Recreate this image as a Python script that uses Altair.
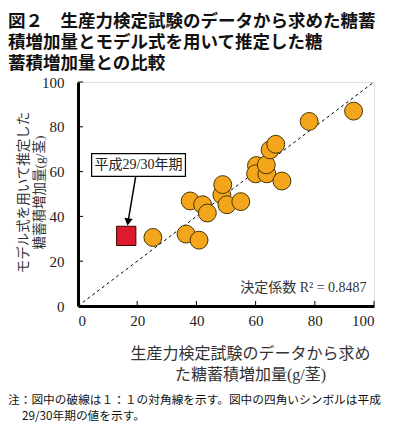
import altair as alt
import pandas as pd

# ---- data ----
obs_x = [25.3, 36.5, 40.9, 37.9, 42.1, 43.7, 48.6, 48.9, 50.3, 55.0,
         60.3, 60.0, 63.8, 63.6, 68.9, 64.9, 66.8, 78.1, 93.1]
est_y = [30.6, 32.1, 29.4, 46.9, 45.2, 41.5, 49.6, 54.2, 45.2, 46.6,
         62.7, 59.0, 59.0, 63.0, 55.8, 69.7, 72.2, 82.4, 87.0]
sq_x = [16.3]
sq_y = [31.3]
tick_vals = [0, 20, 40, 60, 80, 100]
diag = [0, 100]

title_lines = ["図２　生産力検定試験のデータから求めた糖蓄",
               "積増加量とモデル式を用いて推定した糖",
               "蓄積増加量との比較"]
x_title = ["生産力検定試験のデータから求め", "た糖蓄積増加量(g/茎)"]
y_title = ["モデル式を用いて推定した", "糖蓄積増加量(g/茎)"]
box_label = "平成29/30年期"
r2_label = "決定係数 R² = 0.8487"
note1 = "注：図中の破線は１：１の対角線を示す。図中の四角いシンボルは平成"
note2 = "29/30年期の値を示す。"

# annotation anchors (data units)
box_x = [4.6]; box_x2 = [36.3]; box_y = [57.9]; box_y2 = [68.0]
arrow_x = [19.5]; arrow_y = [57.9]; arrow_x2 = [16.9]; arrow_y2 = [37.5]
r2_pos = [97.5, 7.9]

W, H = 296, 224
PL, PT = 70, 74
SERIF = "Liberation Serif, Noto Sans CJK JP"
GOTHIC = "Noto Sans CJK JP"

xs = alt.Scale(domain=[0, 100], nice=False)
ys = alt.Scale(domain=[0, 100], nice=False)

xaxis = alt.Axis(values=tick_vals, ticks=False, grid=False, domainWidth=3,
                 domainColor="black", labelFont=SERIF, labelFontSize=15,
                 labelColor="#222", labelPadding=7, title=x_title,
                 titleFont=SERIF, titleFontSize=16, titleFontWeight="normal",
                 titleColor="#333", titleLineHeight=21, titleX=172, titleY=39,
                 titleAlign="center", titleBaseline="top")
yaxis = alt.Axis(values=tick_vals, ticks=False, grid=False, domainWidth=3,
                 domainColor="black", labelFont=SERIF, labelFontSize=15,
                 labelColor="#222", labelPadding=14, title=y_title,
                 titleFont=SERIF, titleFontSize=13.5, titleFontWeight="normal",
                 titleColor="#333", titleLineHeight=16, titleX=-55, titleY=110,
                 titleAngle=270, titleAlign="center", titleBaseline="middle")

diag_df = pd.DataFrame({"x": diag, "y": diag})
base_line = alt.Chart(diag_df).mark_line(color="black", strokeWidth=1, strokeDash=[3, 3]).encode(
    x=alt.X("x:Q", scale=xs, axis=xaxis),
    y=alt.Y("y:Q", scale=ys, axis=yaxis),
)

tk = pd.DataFrame({"v": tick_vals[1:]})
xticks = alt.Chart(tk).mark_rule(color="black", strokeWidth=1).encode(
    x=alt.X("v:Q", scale=xs), y=alt.value(H), y2=alt.value(H - 5))
yticks = alt.Chart(tk).mark_rule(color="black", strokeWidth=1).encode(
    y=alt.Y("v:Q", scale=ys), x=alt.value(0), x2=alt.value(5))

pts = pd.DataFrame({"x": obs_x, "y": est_y})
circles = alt.Chart(pts).mark_point(shape="circle", filled=True, size=320,
                                    fill="#F3A51B", stroke="#4a3400",
                                    strokeWidth=1, opacity=1).encode(
    x=alt.X("x:Q", scale=xs), y=alt.Y("y:Q", scale=ys))

sq = pd.DataFrame({"x": sq_x, "y": sq_y})
square = alt.Chart(sq).mark_point(shape="square", filled=True, size=370,
                                  fill="#DC1C2E", stroke="#3a0000",
                                  strokeWidth=1, opacity=1).encode(
    x=alt.X("x:Q", scale=xs), y=alt.Y("y:Q", scale=ys))

ar = pd.DataFrame({"x": arrow_x, "y": arrow_y, "x2": arrow_x2, "y2": arrow_y2})
arrow = alt.Chart(ar).mark_rule(color="black", strokeWidth=1.5).encode(
    x=alt.X("x:Q", scale=xs), y=alt.Y("y:Q", scale=ys), x2="x2:Q", y2="y2:Q")
head = alt.Chart(ar).mark_point(shape="triangle-down", filled=True, size=70,
                                color="black", opacity=1, angle=9).encode(
    x=alt.X("x2:Q", scale=xs), y=alt.Y("y2:Q", scale=ys))

bx = pd.DataFrame({"x": box_x, "x2": box_x2, "y": box_y, "y2": box_y2, "t": [box_label]})
box = alt.Chart(bx).mark_rect(fill="white", stroke="black", strokeWidth=1.2).encode(
    x=alt.X("x:Q", scale=xs), x2="x2:Q", y=alt.Y("y:Q", scale=ys), y2="y2:Q")
bx["cx"] = [(box_x[0] + box_x2[0]) / 2]
bx["cy"] = [(box_y[0] + box_y2[0]) / 2]
box_text = alt.Chart(bx).mark_text(font=SERIF, fontSize=14, color="#222",
                                   baseline="middle", align="center").encode(
    x=alt.X("cx:Q", scale=xs), y=alt.Y("cy:Q", scale=ys), text="t:N")

r2 = pd.DataFrame({"x": [r2_pos[0]], "y": [r2_pos[1]], "t": [r2_label]})
r2_text = alt.Chart(r2).mark_text(font=SERIF, fontSize=14, color="#333",
                                  baseline="middle", align="right").encode(
    x=alt.X("x:Q", scale=xs), y=alt.Y("y:Q", scale=ys), text="t:N")

n1 = pd.DataFrame({"t": [note1]})
n2 = pd.DataFrame({"t": [note2]})
notes1 = alt.Chart(n1).mark_text(font=GOTHIC, fontSize=11.7, color="#111",
                                 align="left", baseline="middle").encode(
    x=alt.value(-PL), y=alt.value(H + 94), text="t:N")
notes2 = alt.Chart(n2).mark_text(font=GOTHIC, fontSize=11.7, color="#111",
                                 align="left", baseline="middle").encode(
    x=alt.value(-PL + 14), y=alt.value(H + 110), text="t:N")

chart = alt.layer(base_line, xticks, yticks, circles, square, arrow, head, box,
                  box_text, r2_text, notes1, notes2).properties(
    width=W, height=H,
    autosize=alt.AutoSizeParams(type="none"),
    padding={"left": PL, "top": PT, "right": 377 - PL - W, "bottom": 414 - PT - H},
    title=alt.TitleParams(text=title_lines, anchor="start", frame="group",
                          dx=-PL, dy=7, font=GOTHIC, fontSize=17.5, fontWeight="bold",
                          lineHeight=21, color="#111", baseline="top", offset=10),
).configure_view(stroke=None).configure(background="white")

chart.save("out.html", embed_options={"renderer": "svg", "actions": False})
